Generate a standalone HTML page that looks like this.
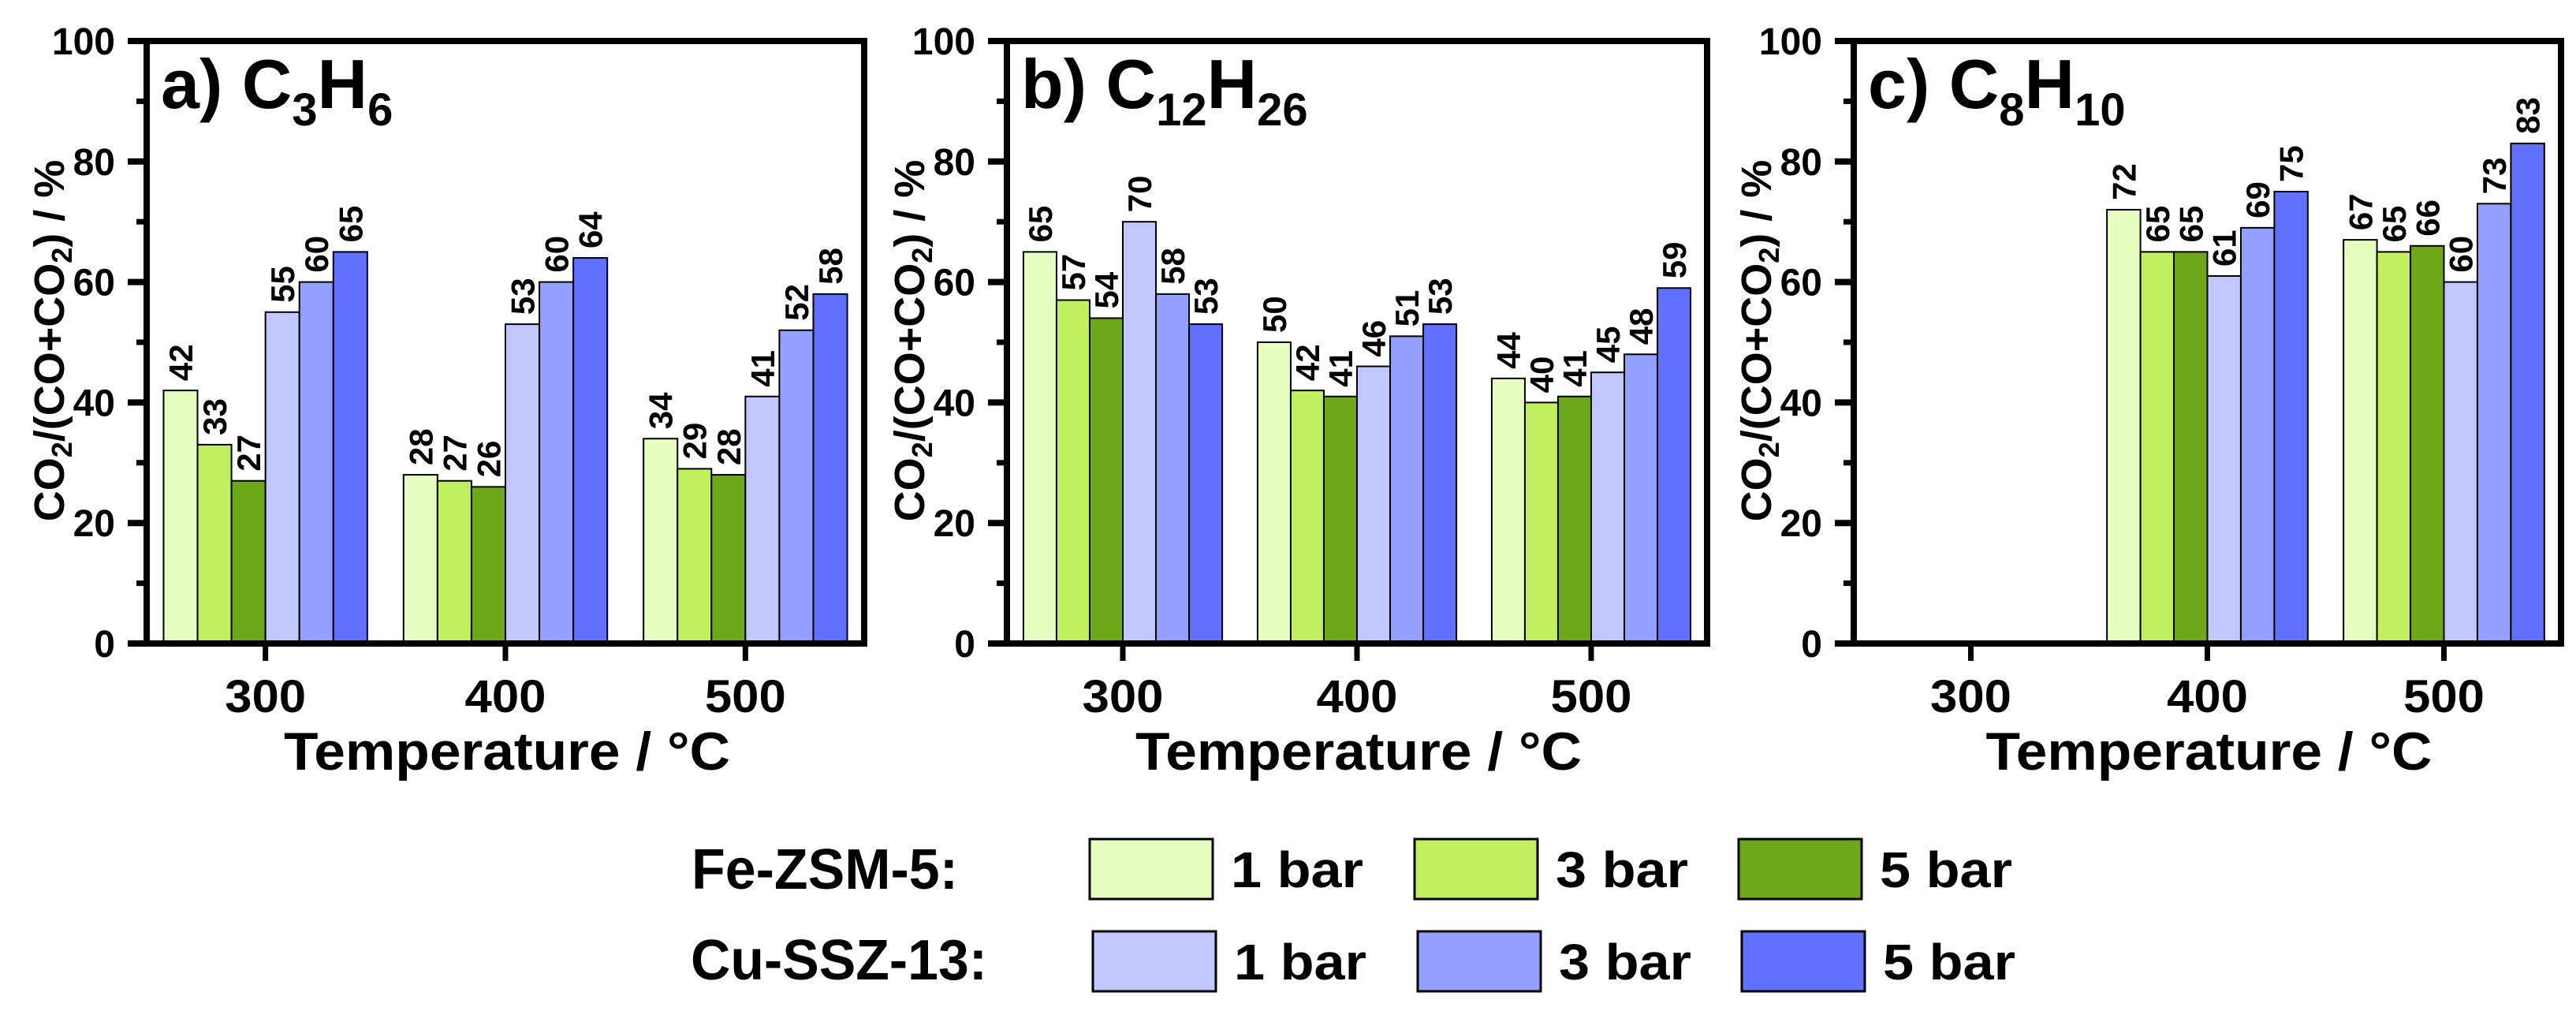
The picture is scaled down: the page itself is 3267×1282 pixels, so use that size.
<!DOCTYPE html>
<html><head><meta charset="utf-8"><style>
html,body{margin:0;padding:0;background:#fff}
svg{display:block}
text{font-family:"Liberation Sans",Arial,sans-serif;font-weight:bold;fill:#000}
</style></head><body>
<svg id="chart" width="3267" height="1282" viewBox="0 0 3267 1282" xmlns="http://www.w3.org/2000/svg"></svg>
<script>
const categories = [300, 400, 500];
const seriesNames = ["Fe-ZSM-5 1 bar","Fe-ZSM-5 3 bar","Fe-ZSM-5 5 bar","Cu-SSZ-13 1 bar","Cu-SSZ-13 3 bar","Cu-SSZ-13 5 bar"];
const colors = ["#e4ffc0","#c0f060","#6ca818","#c0c8ff","#93a0ff","#6070ff"];
// values per panel: [category][series]
const valuesA = [[42,33,27,55,60,65],[28,27,26,53,60,64],[34,29,28,41,52,58]];
const valuesB = [[65,57,54,70,58,53],[50,42,41,46,51,53],[44,40,41,45,48,59]];
const valuesC = [null,[72,65,65,61,69,75],[67,65,66,60,73,83]];
const yTicks = [0,20,40,60,80,100];
const yMinor = [10,30,50,70,90];

const NS = "http://www.w3.org/2000/svg";
const svg = document.getElementById("chart");
function mk(tag, attrs, parent){
  const e = document.createElementNS(NS, tag);
  for (const k in attrs) e.setAttribute(k, attrs[k]);
  (parent||svg).appendChild(e);
  return e;
}

const panels = [
  {id:"a", left:186, right:1096, vals:valuesA, title:["a) C","3","H","6"]},
  {id:"b", left:1277, right:2165, vals:valuesB, title:["b) C","12","H","26"]},
  {id:"c", left:2351, right:3248, vals:valuesC, title:["c) C","8","H","10"]}
];
const TOP = 52, BOT = 816;
function yScale(v){ return BOT - (v/100)*(BOT-TOP); }

panels.forEach(p => {
  const g = mk("g", {});
  
  
  const xScale = t => p.left + (t - 250.5) / 299 * (p.right - p.left);
  const spacing = xScale(400) - xScale(300);
  const bw = spacing * 0.1415;

  p.vals.forEach((grp, ci) => {
    if (!grp) return;
    const cx = xScale(categories[ci]);
    grp.forEach((v, si) => {
      const x = cx - 3*bw + si*bw;
      const r = mk("rect", {x:x, y:yScale(v), width:bw, height:BOT - yScale(v), fill:colors[si], stroke:"#000", "stroke-width":2}, g);
      
      
      const lx = x + bw/2 + 15, ly = yScale(v) - 12;
      const t = mk("text", {x:lx, y:ly, "font-size":42, transform:"rotate(-90 "+lx+" "+ly+")"}, g);
      t.textContent = v;
      
      
    });
  });

  const fr = mk("rect", {x:p.left, y:TOP, width:p.right-p.left, height:BOT-TOP, fill:"none", stroke:"#000", "stroke-width":8}, g);
  
  

  yTicks.forEach(v => {
    const y = yScale(v);
    mk("line", {x1:p.left-24, x2:p.left, y1:y, y2:y, stroke:"#000", "stroke-width":8}, g);
    const t = mk("text", {x:p.left-40, y:y+17, "font-size":48, "text-anchor":"end"}, g);
    t.textContent = v;
    
    
  });
  yMinor.forEach(v => {
    const y = yScale(v);
    mk("line", {x1:p.left-13, x2:p.left, y1:y, y2:y, stroke:"#000", "stroke-width":7}, g);
  });
  categories.forEach(c => {
    const x = xScale(c);
    mk("line", {x1:x, x2:x, y1:BOT, y2:BOT+22, stroke:"#000", "stroke-width":7}, g);
    const t = mk("text", {x:x, y:903, "font-size":58, "text-anchor":"middle", textLength:103, lengthAdjust:"spacingAndGlyphs"}, g);
    t.textContent = c;
    
    
  });
  const mid = (p.left + p.right)/2;
  const xt = mk("text", {x:mid+2, y:976, "font-size":68, "text-anchor":"middle", textLength:566, lengthAdjust:"spacingAndGlyphs"}, g);
  xt.textContent = "Temperature / °C";
  
  
  const yx = p.left - 105, yy = 432;
  const yt = mk("text", {x:yx, y:yy, "font-size":54, "text-anchor":"middle", transform:"rotate(-90 "+yx+" "+yy+")"}, g);
  
  
  yt.innerHTML = 'CO<tspan font-size="36" dy="10">2</tspan><tspan dy="-10">/(CO+CO</tspan><tspan font-size="36" dy="10">2</tspan><tspan dy="-10">) / %</tspan>';
  const tt = mk("text", {x:p.left+18, y:137, "font-size":88}, g);
  
  
  tt.innerHTML = p.title[0] + '<tspan font-size="58" dy="22">'+p.title[1]+'</tspan><tspan dy="-22">'+p.title[2]+'</tspan><tspan font-size="58" dy="22">'+p.title[3]+'</tspan>';
});

const legRows = [
  {label:"Fe-ZSM-5:", y:1064, base:1127, xs:[1382,1794,2205], c:[0,1,2], x0:877, x1:1215},
  {label:"Cu-SSZ-13:", y:1181, base:1242, xs:[1386,1798,2209], c:[3,4,5], x0:876, x1:1252}
];
const legendNames = ["1 bar","3 bar","5 bar"];
const lg = mk("g", {});


legRows.forEach(r => {
  const lt = mk("text", {x:r.x0, y:r.base, "font-size":72, textLength:r.x1-r.x0, lengthAdjust:"spacingAndGlyphs"}, lg);
  lt.textContent = r.label;
  
  
  r.xs.forEach((x, i) => {
    const b = mk("rect", {x:x, y:r.y, width:156, height:76, fill:colors[r.c[i]], stroke:"#000", "stroke-width":3}, lg);
    
    
    const t = mk("text", {x:x+179, y:r.y+61, "font-size":64, textLength:168, lengthAdjust:"spacingAndGlyphs"}, lg);
    t.textContent = legendNames[i];
    
    
  });
});
</script>
</body></html>
